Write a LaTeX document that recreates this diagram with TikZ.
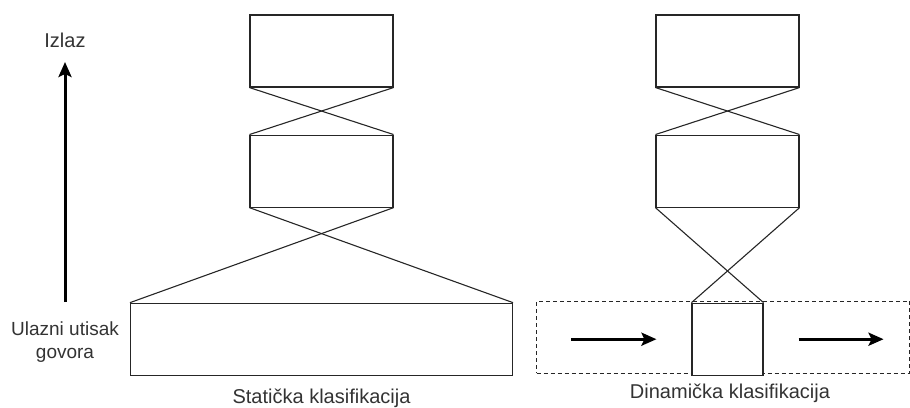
\documentclass[tikz,border=0pt]{standalone}
\usepackage{fontspec}
\setmainfont{Liberation Sans}
\usetikzlibrary{positioning,arrows.meta}
\definecolor{textgray}{HTML}{333333}
\begin{document}
\begin{tikzpicture}[x=1pt,y=-1pt]
  \newcommand{\Xstat}[0]{ 321.5 }
  \newcommand{\Xdyn}[0]{ 727.5 }
  \newcommand{\Xaxis}[0]{ 65 }
  \newcommand{\Ytop}[0]{ 51 }
  
  \newcommand{\spacing}[0]{ 47pt }
  \newcommand{\bigspacing}[0]{ 95pt }
  
  \tikzstyle{edge}  = [line width=1.1pt,draw=black!85]
  \tikzstyle{dedge} = [line width=3pt,-{Stealth[length=15pt,width=13pt,inset=3pt]},draw=black]
  \tikzstyle{block}=[
    rectangle,
    draw=black!85,
    fill=white,
    anchor=center,
    line width=1.1pt,
    inner sep=0pt,
    minimum width=143pt,
    minimum height=72pt,
  ]
  \tikzstyle{caption}=[
    text=textgray,
    align=center,
    inner sep=0pt,
    font=\fontsize{20}{23}\selectfont,
  ]
  
  \useasboundingbox (0,0) rectangle (910,407);
  
  % static classification
  \node[block] (stat top) at (\Xstat, \Ytop) {};
  \node[block, below=\spacing of stat top] (stat mid) {};
  \node[block, below=\bigspacing of stat mid, minimum width=382pt] (stat in) {};
  \node[caption] (stat label) at ([yshift=-23pt]stat in.south) {Statička klasifikacija};
  
  % dynamic classification
  \node[
    rectangle,
    draw=black!85,
    dash pattern=on 4pt off 3pt,
    line width=1pt,
    minimum width=373pt,
    minimum height=72pt,
    anchor=west,
  ] (window) at (536, 337) {};
  \node[block] (dyn top) at (\Xdyn, \Ytop) {};
  \node[block, below=\spacing of dyn top] (dyn mid) {};
  \node[block, below=\bigspacing of dyn mid, minimum width=71pt] (dyn in) {};
  \node[caption] (dyn label) at ([xshift=2.5pt,yshift=-18pt]dyn in.south) {Dinamička klasifikacija};
  
  \coordinate (win in a)  at ([xshift=-120pt]dyn in.west);
  \coordinate (win in b)  at ([xshift=-35pt]dyn in.west);
  \coordinate (win out a) at ([xshift=35pt]dyn in.east);
  \coordinate (win out b) at ([xshift=120pt]dyn in.east);
  
  % axis
  \node[caption] (out label) at (\Xaxis, 40) {Izlaz};
  \node[caption, font=\fontsize{19}{22.5}\selectfont] (in label) at (\Xaxis, 342) {Ulazni utisak\\govora};
  \coordinate (axis base) at (\Xaxis, 302);
  \coordinate (axis tip)  at (\Xaxis, 62);
  
  % wiring
  \draw[edge] (stat top.south west) -- (stat mid.north east);
  \draw[edge] (stat top.south east) -- (stat mid.north west);
  \draw[edge] (stat mid.south west) -- (stat in.north east);
  \draw[edge] (stat mid.south east) -- (stat in.north west);
  \draw[edge] (dyn top.south west) -- (dyn mid.north east);
  \draw[edge] (dyn top.south east) -- (dyn mid.north west);
  \draw[edge] (dyn mid.south west) -- (dyn in.north east);
  \draw[edge] (dyn mid.south east) -- (dyn in.north west);
  \draw[dedge] (win in a) -- (win in b);
  \draw[dedge] (win out a) -- (win out b);
  \draw[dedge] (axis base) -- (axis tip);
\end{tikzpicture}
\end{document}
